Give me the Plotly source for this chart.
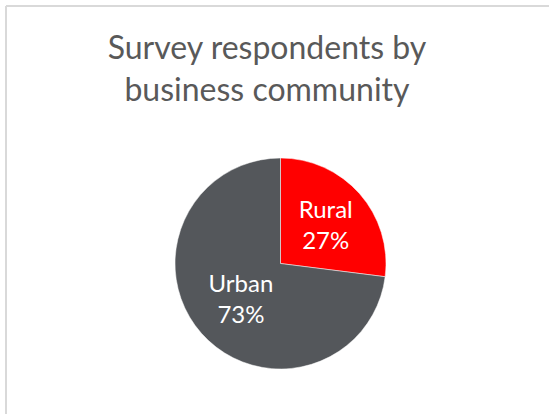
import plotly.graph_objects as go

labels = ["Rural", "Urban"]
values = [27, 73]
colors = ["#FF0000", "#54575B"]

fig = go.Figure(go.Pie(
    labels=labels,
    values=values,
    sort=False,
    direction="clockwise",
    rotation=0,
    marker=dict(colors=colors, line=dict(color="#FFFFFF", width=0.5)),
    textinfo="label+percent",
    textposition="inside",
    insidetextorientation="horizontal",
    texttemplate="%{label}<br>%{percent:.0%}",
    textfont=dict(color="#FFFFFF", size=24, family="Lato, Open Sans, sans-serif"),
    domain=dict(x=[175/549, 386/549], y=[1-369/414, 1-158/414]),
    showlegend=False,
    hoverinfo="label+percent",
))

fig.update_layout(
    width=549, height=414,
    margin=dict(l=0, r=0, t=0, b=0),
    paper_bgcolor="#FFFFFF",
    plot_bgcolor="#FFFFFF",
    title=dict(
        text="Survey respondents by<br>business community",
        x=267/549, xanchor="center",
        y=1-59/414, yanchor="top",
        font=dict(size=32, color="#595959", family="Lato, Open Sans, sans-serif"),
    ),
    shapes=[
        dict(type="line", xref="paper", yref="paper", x0=6/549, x1=1, y0=1-6/414, y1=1-6/414,
             line=dict(color="#D9D9D9", width=2)),
        dict(type="line", xref="paper", yref="paper", x0=6/549, x1=6/549, y0=0, y1=1-6/414,
             line=dict(color="#D9D9D9", width=2)),
    ],
)

fig.write_html("out.html", config={"displayModeBar": False},
               post_script="document.body.style.margin='0';")
